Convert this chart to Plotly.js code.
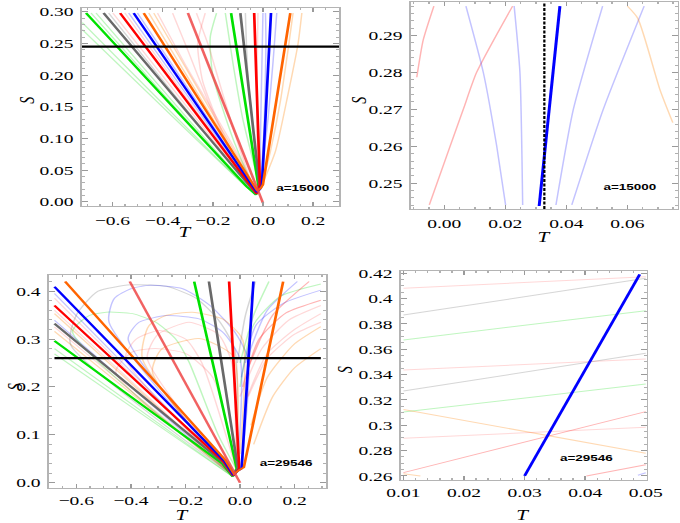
<!DOCTYPE html>
<html><head><meta charset="utf-8">
<script src="https://cdn.plot.ly/plotly-3.0.1.min.js"></script>
<style>
html,body{margin:0;padding:0;background:#fff;overflow:hidden}
#wrap{width:680px;height:523px;overflow:hidden;position:relative}
#plot{width:453px;height:523px;transform:scaleX(1.5011);transform-origin:0 0}
</style></head><body>
<div id="wrap"><div id="plot"></div></div>
<script>
// ---------- Panel 1 (a=15000, wide view) ----------
const p1StrongKey = ['green','gray','red','blue','orange','medred'];
const p1StrongT = [
  [-0.705,-0.065,-0.028,-0.018,-0.127],
  [-0.635,-0.060,-0.026,-0.014,-0.090],
  [-0.569,-0.055,-0.025,-0.012,-0.035],
  [-0.515,-0.050,-0.024,-0.012,-0.004,0.032],
  [-0.475,-0.045,-0.022,-0.008,0.000,0.109],
  [-0.299,0.000]
];
const p1StrongS = [
  [0.298,0.024,0.011,0.025,0.298],
  [0.298,0.026,0.012,0.026,0.298],
  [0.298,0.028,0.013,0.027,0.298],
  [0.298,0.030,0.015,0.020,0.026,0.298],
  [0.298,0.032,0.017,0.022,0.027,0.298],
  [0.298,-0.002]
];
const p1FaintKey = ['green','green','green','green','gray','pink','pink','blue','blue','orange','orange',
                    'pink','pink','pink','green','pink',
                    'pink','gray','blue','blue','blue','orange','orange','green'];
const p1FaintT = [
  [-0.720,-0.062,-0.027],[-0.720,-0.062,-0.027],[-0.685,-0.062,-0.027],[-0.665,-0.062,-0.027],
  [-0.615,-0.060,-0.027],[-0.598,-0.058,-0.027],[-0.550,-0.055,-0.027],[-0.535,-0.053,-0.027],
  [-0.500,-0.050,-0.027],[-0.455,-0.046,-0.024],[-0.435,-0.045,-0.024],
  [-0.420,-0.300,-0.180,-0.080,-0.030],[-0.360,-0.300,-0.220,-0.120,-0.030],
  [-0.230,-0.260,-0.240,-0.150,-0.030],[-0.185,-0.210,-0.200,-0.120,-0.030],
  [-0.265,-0.220,-0.160,-0.090,-0.030],
  [-0.020,-0.025,-0.020],[-0.070,-0.060,-0.030,-0.015],[0.000,-0.005,-0.010,-0.012],
  [0.055,0.040,0.020,0.000,-0.010],[0.010,0.012,0.005,-0.010],
  [0.120,0.100,0.070,0.030,-0.005],[0.155,0.140,0.100,0.050,-0.005],
  [-0.150,-0.120,-0.080,-0.030,-0.015]
];
const p1FaintS = [
  [0.283,0.022,0.011],[0.272,0.022,0.011],[0.298,0.023,0.011],[0.298,0.024,0.011],
  [0.298,0.026,0.012],[0.298,0.027,0.012],[0.298,0.028,0.013],[0.298,0.029,0.013],
  [0.298,0.030,0.014],[0.298,0.031,0.015],[0.298,0.032,0.015],
  [0.298,0.210,0.130,0.060,0.015],[0.298,0.240,0.160,0.070,0.015],
  [0.298,0.250,0.190,0.100,0.015],[0.298,0.260,0.200,0.100,0.015],
  [0.298,0.250,0.170,0.080,0.015],
  [0.298,0.150,0.025],[0.298,0.200,0.080,0.025],[0.298,0.200,0.100,0.025],
  [0.298,0.220,0.130,0.060,0.025],[0.298,0.250,0.120,0.025],
  [0.298,0.240,0.160,0.080,0.025],[0.298,0.250,0.170,0.080,0.025],
  [0.298,0.220,0.130,0.050,0.025]
];
const p1CutT = [-0.721,0.303];
const p1CutS = [0.245,0.245];

// ---------- Panel 2 (a=15000, zoom) ----------
const p2BlueT = [0.0311,0.0379];
const p2BlueS = [0.2438,0.2980];
const p2DashT = [0.0328,0.0328];
const p2DashS = [0.2430,0.2991];
const p2FaintKey = ['red','red','blue','blue','blue','blue','orange'];
const p2FaintT = [
  [-0.0090,-0.0069,-0.0034],
  [-0.0049,0.0019,0.0062,0.0106,0.0224],
  [0.0071,0.0128,0.0172,0.0201],
  [0.0229,0.0248,0.0257],
  [0.0366,0.0423,0.0519],
  [0.0418,0.0521,0.0655],
  [0.0600,0.0634,0.0707,0.0749]
];
const p2FaintS = [
  [0.2787,0.2888,0.2980],
  [0.2441,0.2600,0.2699,0.2800,0.2980],
  [0.2980,0.2800,0.2600,0.2441],
  [0.2980,0.2800,0.2441],
  [0.2441,0.2700,0.2980],
  [0.2441,0.2700,0.2980],
  [0.2980,0.2947,0.2753,0.2664]
];

// ---------- Panel 3 (a=29546, wide view) ----------
const p3StrongKey = ['green','gray','red','blue','orange','medred'];
const p3StrongT = [
  [-0.680,-0.065,-0.027,-0.012,-0.168],
  [-0.680,-0.062,-0.026,-0.008,-0.114],
  [-0.680,-0.060,-0.025,-0.003,-0.040],
  [-0.680,-0.058,-0.024,-0.010,0.006,0.049],
  [-0.641,-0.055,-0.022,-0.005,0.014,0.158],
  [-0.404,0.000]
];
const p3StrongS = [
  [0.296,0.040,0.013,0.030,0.420],
  [0.332,0.042,0.014,0.030,0.420],
  [0.370,0.044,0.015,0.030,0.420],
  [0.409,0.046,0.016,0.024,0.030,0.420],
  [0.420,0.048,0.018,0.026,0.032,0.420],
  [0.420,0.000]
];
const p3FaintKey = ['pink','orange','blue','pink','orange','green','green','pink','blue',
  'gray','blue','blue','green','orange','orange','pink','pink','pink',
  'green','blue','red','pink','pink','pink','orange','orange','gray','green','blue','red'];
const p3FaintT = [
  [-0.680,-0.026],[-0.680,-0.026],[-0.680,-0.026],[-0.680,-0.026],[-0.680,-0.026],
  [-0.680,-0.028],[-0.680,-0.028],[-0.680,-0.026],[-0.680,-0.026],
  [-0.030,-0.620,-0.600,-0.520,-0.400,-0.270,-0.160,-0.080,-0.020,-0.012],
  [-0.030,-0.480,-0.460,-0.400,-0.330,-0.210,-0.110,-0.020,0.030,0.010],
  [-0.030,-0.410,-0.370,-0.270,-0.150,-0.065,0.000,-0.008],
  [-0.030,-0.614,-0.553,-0.490,-0.394,-0.309,-0.236,-0.187,-0.080,-0.015],
  [-0.030,-0.358,-0.333,-0.272,-0.175,-0.065,0.008,0.000],
  [-0.030,-0.321,-0.285,-0.150,-0.028,-0.015],
  [-0.030,-0.455,-0.394,-0.309,-0.200,-0.100,-0.015],
  [-0.030,-0.340,-0.300,-0.187,-0.080,-0.030,-0.015],
  [-0.030,-0.420,-0.380,-0.297,-0.200,-0.140,-0.015],
  [0.000,0.050,0.150,0.296],[0.005,0.060,0.160,0.296],[0.010,0.070,0.170,0.296],
  [0.000,0.080,0.180,0.296],[0.020,0.100,0.200,0.296],[0.030,0.100,0.200,0.296],
  [0.040,0.100,0.200,0.296],[0.050,0.120,0.200,0.296],
  [-0.010,0.020,0.057],[0.000,0.050,0.106],[0.020,0.100,0.210],[0.030,0.120,0.253]
];
const p3FaintS = [
  [0.360,0.015],[0.353,0.015],[0.339,0.015],[0.325,0.015],[0.316,0.015],
  [0.280,0.013],[0.269,0.013],[0.385,0.016],[0.395,0.016],
  [0.016,0.287,0.350,0.400,0.413,0.410,0.385,0.340,0.280,0.030],
  [0.016,0.335,0.385,0.405,0.412,0.405,0.370,0.315,0.259,0.060],
  [0.016,0.300,0.335,0.349,0.342,0.315,0.259,0.040],
  [0.016,0.315,0.349,0.356,0.353,0.335,0.300,0.252,0.100,0.030],
  [0.016,0.259,0.328,0.349,0.356,0.342,0.301,0.060],
  [0.016,0.231,0.280,0.301,0.266,0.030],
  [0.016,0.231,0.273,0.280,0.270,0.220,0.030],
  [0.016,0.260,0.310,0.335,0.310,0.250,0.030],
  [0.016,0.260,0.300,0.318,0.300,0.250,0.030],
  [0.200,0.330,0.390,0.415],[0.220,0.330,0.375,0.402],[0.200,0.300,0.355,0.381],
  [0.180,0.280,0.340,0.370],[0.170,0.270,0.320,0.353],[0.180,0.260,0.310,0.335],
  [0.120,0.220,0.290,0.326],[0.080,0.180,0.240,0.280],
  [0.250,0.350,0.420],[0.250,0.350,0.420],[0.250,0.360,0.420],[0.240,0.350,0.420]
];
const p3CutT = [-0.680,0.296];
const p3CutS = [0.260,0.260];

// ---------- Panel 4 (a=29546, zoom) ----------
const p4BlueT = [0.0300,0.0490];
const p4BlueS = [0.2600,0.4192];
const p4FaintKey = ['pink','gray','green','pink','gray','green','orange','red','pink','orange','red','blue'];
const p4FaintT = [
  [0.010,0.050],[0.010,0.050],[0.010,0.050],[0.010,0.050],[0.010,0.050],[0.010,0.050],
  [0.010,0.050],[0.010,0.050],[0.010,0.050],[0.010,0.0128],[0.0402,0.050],[0.0487,0.050]
];
const p4FaintS = [
  [0.4081,0.4173],[0.3870,0.4160],[0.3673,0.3905],[0.3437,0.3523],[0.3271,0.3568],[0.3105,0.3326],
  [0.3125,0.2779],[0.2626,0.3108],[0.2897,0.2984],[0.2618,0.2600],[0.2600,0.2688],[0.2605,0.2625]
];
const p4YTickVals = [0.26,0.28,0.30,0.32,0.34,0.36,0.38,0.40,0.42];
const p4YTickText = ['0.26','0.28','0.3','0.32','0.34','0.36','0.38','0.4','0.42'];

const labelA1 = 'a=15000';
const labelA2 = 'a=29546';
const xTitle = 'T';
const yTitle = 'S';

// ---------- styling ----------
const strongColor = {green:'rgb(0,225,0)', gray:'rgb(105,105,105)', red:'rgb(255,0,0)',
  blue:'rgb(0,0,255)', orange:'rgb(255,100,0)', medred:'rgba(238,70,70,0.85)'};
const faintColor = {green:'rgba(0,220,0,0.25)', gray:'rgba(90,90,90,0.25)', red:'rgba(255,40,40,0.35)',
  pink:'rgba(255,60,60,0.2)', blue:'rgba(40,40,255,0.28)', orange:'rgba(255,130,0,0.3)'};

const traces = [];
function addSet(Ts, Ss, keys, xa, ya, palette, width, shape) {
  Ts.forEach((t, i) => {
    traces.push({type:'scatter', mode:'lines', x:t, y:Ss[i], xaxis:xa, yaxis:ya,
      line:{color:palette[keys[i]], width:width, shape:shape, smoothing:0.6}, hoverinfo:'skip'});
  });
}
function addLine(t, s, xa, ya, color, width, dash) {
  traces.push({type:'scatter', mode:'lines', x:t, y:s, xaxis:xa, yaxis:ya,
    line:{color:color, width:width, dash:dash||'solid'}, hoverinfo:'skip'});
}

addSet(p1FaintT, p1FaintS, p1FaintKey, 'x', 'y', faintColor, 1, 'spline');
addSet(p1StrongT, p1StrongS, p1StrongKey, 'x', 'y', strongColor, 1.8, 'linear');
addLine(p1CutT, p1CutS, 'x', 'y', '#000', 2.2);

addSet(p2FaintT, p2FaintS, p2FaintKey, 'x2', 'y2', faintColor, 1, 'spline');
addLine(p2BlueT, p2BlueS, 'x2', 'y2', 'rgb(0,0,255)', 2);
addLine(p2DashT, p2DashS, 'x2', 'y2', '#000', 1.5, '3px,1.5px');

addSet(p3FaintT, p3FaintS, p3FaintKey, 'x3', 'y3', faintColor, 1, 'spline');
addSet(p3StrongT, p3StrongS, p3StrongKey, 'x3', 'y3', strongColor, 1.8, 'linear');
addLine(p3CutT, p3CutS, 'x3', 'y3', '#000', 2.2);

addSet(p4FaintT, p4FaintS, p4FaintKey, 'x4', 'y4', faintColor, 1, 'linear');
addLine(p4BlueT, p4BlueS, 'x4', 'y4', 'rgb(0,0,255)', 2);

const serif = 'Liberation Serif, Times New Roman, serif';
const tickFont = {family:serif, size:13, color:'#000'};
function axis(domain, range, anchor, dtick, minorDtick, fmt) {
  return {domain:domain, range:range, anchor:anchor, tick0:0, dtick:dtick, tickformat:fmt,
    ticks:'inside', ticklen:4, tickwidth:1, tickcolor:'#9a9a9a',
    showline:true, linecolor:'#b4b4b4', linewidth:1, mirror:'ticks',
    showgrid:false, zeroline:false, fixedrange:true, automargin:false,
    minor:{ticks:'inside', ticklen:2, dtick:minorDtick, tick0:0, tickcolor:'#b0b0b0', showgrid:false},
    tickfont:tickFont, ticklabelstandoff:2, title:{text:''}};
}
function xLabel(px, pyTop, text) {
  return {xref:'paper', yref:'paper', x:px/680, y:1-pyTop/523, text:'<i>'+text+'</i>', showarrow:false,
    xanchor:'center', yanchor:'top', borderpad:0, font:{family:serif, size:14, color:'#000'}};
}
function yLabel(px, py, text) {
  return {xref:'paper', yref:'paper', x:px/680, y:1-py/523, text:'<i>'+text+'</i>', showarrow:false,
    xanchor:'center', yanchor:'middle', textangle:-90, borderpad:0, font:{family:serif, size:14, color:'#000'}};
}
function tag(xa, ya, x, y, text) {
  return {xref:xa, yref:ya, x:x, y:y, text:'<b>'+text+'</b>', showarrow:false, xanchor:'left', yanchor:'middle',
    font:{family:'Liberation Sans, Arial, sans-serif', size:9, color:'#000'}};
}

const W = 453, H = 523;
const layout = {
  width:W, height:H, margin:{l:0,r:0,t:0,b:0}, paper_bgcolor:'#fff', plot_bgcolor:'#fff',
  showlegend:false, hovermode:false,
  xaxis: axis([82/680, 339/680], [-0.721, 0.303], 'y', 0.2, 0.05, '.1f'),
  yaxis: axis([1-206/523, 1-8/523], [-0.0068, 0.306], 'x', 0.05, 0.01, '.2f'),
  xaxis2: axis([411/680, 678/680], [-0.0109, 0.0766], 'y2', 0.02, 0.005, '.2f'),
  yaxis2: axis([1-209/523, 1-2/523], [0.2430, 0.2991], 'x2', 0.01, 0.002, '.2f'),
  xaxis3: Object.assign(axis([49/680, 326/680], [-0.700, 0.315], 'y3', 0.2, 0.05, '.1f'), {ticklabelstandoff:0}),
  yaxis3: axis([1-488/523, 1-275/523], [-0.011, 0.4336], 'x3', 0.1, 0.02, '.1f'),
  xaxis4: Object.assign(axis([401/680, 647/680], [0.0096, 0.0502], 'y4', 0.01, 0.002, '.2f'), {ticklabelstandoff:0}),
  yaxis4: Object.assign(axis([1-480/523, 1-271/523], [0.2568, 0.4218], 'x4', 0.02, 0.005, ''),
           {tickmode:'array', tickvals:p4YTickVals, ticktext:p4YTickText}),
  annotations: [
    tag('x','y',0.040,0.0216,labelA1),
    tag('x2','y2',0.051,0.249,labelA1),
    tag('x3','y3',0.062,0.041,labelA2),
    tag('x4','y4',0.0353,0.2742,labelA2),
    xLabel(185,224,xTitle), yLabel(28,100,yTitle),
    xLabel(544,229,xTitle), yLabel(360,100,yTitle),
    xLabel(183,507,xTitle), yLabel(14,387,yTitle),
    xLabel(523,507,xTitle), yLabel(344,370,yTitle)
  ]
};
Plotly.newPlot('plot', traces, layout, {staticPlot:true, displayModeBar:false});
</script>
</body></html>
